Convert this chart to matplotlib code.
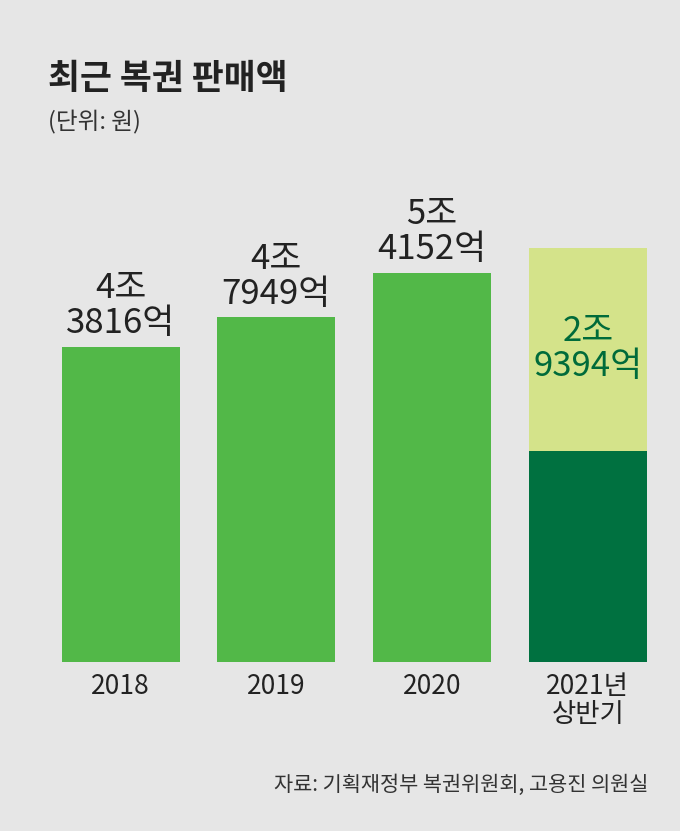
import matplotlib
matplotlib.use("Agg")
import matplotlib.pyplot as plt

plt.rcParams["font.family"] = "Noto Sans CJK KR"

years = ["2018", "2019", "2020", "2021년\n상반기"]
sales = [43816, 47949, 54152, 29394]          # 억 원
bg_2021 = 57600                               # light backdrop bar for 2021
labels = ["4조\n3816억", "4조\n7949억", "5조\n4152억", "2조\n9394억"]

W, H = 680, 831
fig = plt.figure(figsize=(W/100, H/100), dpi=100)
fig.patch.set_facecolor("#e6e6e6")
scale = 315/43816
ax = fig.add_axes([0, (H-662)/H, 1, 562/H])
ax.set_facecolor("none")
sp = 155.8
ax.set_xlim(-120.5/sp, (W-120.5)/sp)
ax.set_ylim(0, 562/scale)
ax.axis("off")
w = 118/sp
x = list(range(4))
ax.bar(x[:3], sales[:3], width=w, color="#52b848")
ax.bar(x[3], bg_2021, width=w, color="#d4e38a")
ax.bar(x[3], sales[3], width=w, color="#007140")
for i in range(3):
    ax.text(x[i], sales[i] + 800, labels[i], ha="center", va="bottom",
            fontsize=25, color="#222222", linespacing=1.0)
ax.text(x[3], (sales[3]+bg_2021)/2, labels[3], ha="center", va="center",
        fontsize=25, color="#006b3a", linespacing=1.0)
for i in range(4):
    ax.text(x[i], -1500, years[i], ha="center", va="top", fontsize=19,
            color="#222222", linespacing=1.05)

fig.text(48/W, 1-78/H, "최근 복권 판매액", fontsize=25, fontweight="bold",
         color="#222222", va="center")
fig.text(48/W, 1-122/H, "(단위: 원)", fontsize=17, color="#333333", va="center")
fig.text(648/W, 1-785/H, "자료: 기획재정부 복권위원회, 고용진 의원실", fontsize=15,
         color="#333333", va="center", ha="right")
fig.savefig("out.png", dpi=100, facecolor=fig.get_facecolor())
